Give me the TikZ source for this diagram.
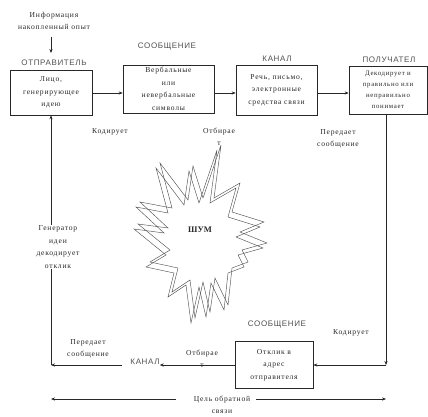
\documentclass[tikz,border=0pt]{standalone}
\usepackage{fontspec}
\setmainfont{Liberation Serif}
\newfontfamily\bodyfont[LetterSpace=10]{Liberation Serif}
\newfontfamily\capsfont[LetterSpace=8]{Liberation Sans}
\usetikzlibrary{arrows.meta}
\definecolor{ink}{RGB}{40,40,40}
\definecolor{capink}{RGB}{80,80,80}
\begin{document}
\begin{tikzpicture}[x=1pt,y=-1pt,
  every node/.style={inner sep=0pt, text=ink},
  txt/.style={font=\bodyfont\fontsize{7.6}{12.5}\selectfont, align=center},
  smalltxt/.style={font=\bodyfont\fontsize{6.8}{11}\selectfont, align=center},
  caps/.style={font=\capsfont\fontsize{8}{10}\selectfont, text=capink},
  box/.style={draw=ink, line width=0.6pt, txt, minimum width=#1},
  box/.default=80pt,
  conn/.style={draw=ink, line width=0.6pt},
  arr/.style={conn, -{Stealth[length=4pt,width=3.2pt]}},
  starline/.style={draw=ink!80, line width=0.45pt, line join=miter}
]
\useasboundingbox (0,0) rectangle (428,417);

% top row
\node[txt] (info) at (54,21) {Информация\\накопленный опыт};
\node[caps] (lblS) at (54,63) {ОТПРАВИТЕЛЬ};
\node[box=82pt, minimum height=45pt] (b1) at (51,92.5) {Лицо,\\генерирующее\\идею};
\node[caps] (lblM1) at (167,47) {СООБЩЕНИЕ};
\node[box=91pt, minimum height=48pt] (b2) at (168.5,89) {Вербальные\\или\\невербальные\\символы};
\node[caps] (lblK1) at (277,59) {КАНАЛ};
\node[box=81pt, minimum height=50pt] (b3) at (276.5,90) {Речь, письмо,\\электронные\\средства связи};
\node[caps] (lblP) at (389,60) {ПОЛУЧАТЕЛ};
\node[draw=ink, line width=0.6pt, smalltxt, minimum width=78pt, minimum height=48pt] (b4) at (388,90) {Декодирует и\\правильно или\\неправильно\\понимает};

\coordinate (infoarr) at (51,37);
\draw[arr] (infoarr) -- (51,53);
\draw[arr] (b1.east |- 0,93) -- (b2.west |- 0,93);
\draw[arr] (b2.east |- 0,93) -- (b3.west |- 0,93);
\draw[arr] (b3.east |- 0,93) -- (b4.west |- 0,93);

% labels in the middle
\node[txt] (kod1) at (110,132) {Кодирует};
\node[txt] (otb1) at (219,137) {Отбирае\\т};
\node[txt] (pered1) at (338,139) {Передает\\сообщение};

% noise star
\def\starpath{(221,145) -- (214,198) -- (240,183) -- (232,212) -- (264,222) -- (240,232) -- (267,243) -- (242,250) -- (248,262) -- (232,268) -- (228,305) -- (215,278) -- (210,312) -- (203,282) -- (195,318) -- (190,280) -- (172,292) -- (178,268) -- (150,262) -- (170,250) -- (138,224) -- (168,228) -- (140,202) -- (172,208) -- (160,163) -- (188,200) -- (193,166) -- (203,198) -- cycle}
\draw[starline] \starpath;
\draw[starline, shift={(-4,5)}] \starpath;
\node[font=\bfseries\fontsize{8.5}{10}\selectfont] (noise) at (200,230) {ШУМ};

% right return
\node[caps] (lblM2) at (277,325) {СООБЩЕНИЕ};
\node[txt] (kod2) at (351,333) {Кодирует};
\node[box=78pt, minimum height=47pt] (b5) at (274,365) {Отклик в\\адрес\\отправителя};
\coordinate (c1) at (386,365);
\draw[arr] (b4.south -| c1) -- (c1);
\draw[arr] (c1) -- (b5.east);

% bottom left
\node[caps] (kan2) at (145,362) {КАНАЛ};
\node[txt] (otb2) at (202,359) {Отбирае\\т};
\node[txt] (pered2) at (88,349) {Передает\\сообщение};
\coordinate (c2) at (51,365);
\draw[arr] (b5.west) -- (kan2.east |- c2);
\draw[arr] (kan2.west |- c2) ++(-8,0) -- (c2);
\draw[arr] (c2) -- (b1.south);
\node[txt, fill=white, inner sep=1pt] (gen) at (58,247) {Генератор\\идеи\\декодирует\\отклик};

% feedback goal
\node[txt] (cel) at (222,405) {Цель обратной\\связи};
\coordinate (c3) at (51,399);
\coordinate (c4) at (386,399);
\draw[arr] (cel.west |- c3) ++(-18,0) -- (c3);
\draw[arr] (cel.east |- c4) ++(6,0) -- (c4);
\end{tikzpicture}
\end{document}
